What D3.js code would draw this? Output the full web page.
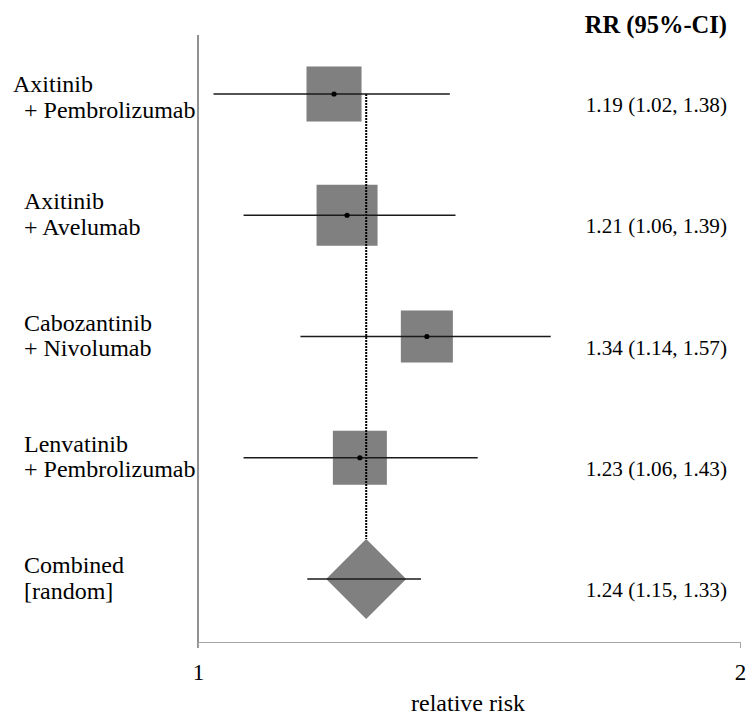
<!DOCTYPE html>
<html>
<head>
<meta charset="utf-8">
<script src="https://cdn.jsdelivr.net/npm/d3@7"></script>
<style>
  html, body { margin: 0; padding: 0; background: #fff; }
  svg { display: block; }
</style>
</head>
<body>
<svg id="chart" width="754" height="718"></svg>
<script>
// Trial-level relative risks with 95% confidence intervals
const studyLabels = [
  ["Axitinib", "+ Pembrolizumab"],
  ["Axitinib", "+ Avelumab"],
  ["Cabozantinib", "+ Nivolumab"],
  ["Lenvatinib", "+ Pembrolizumab"]
];
const studyRR = [1.19, 1.21, 1.34, 1.23];
const studyLower = [1.02, 1.06, 1.14, 1.06];
const studyUpper = [1.38, 1.39, 1.57, 1.43];
const studyWeight = [24.5, 30.1, 21.9, 23.6];

// Random-effects pooled estimate
const pooledLabel = ["Combined", "[random]"];
const pooledRR = 1.24;
const pooledLower = 1.15;
const pooledUpper = 1.33;

const xTicks = [1, 2];
const header = "RR (95%-CI)";
const xTitle = "relative risk";

const FONT = '"Liberation Serif", "Times New Roman", Times, serif';
const BASE = 24;
const svg = d3.select("#chart");
const fmt = d3.format(".2f");

const x = d3.scaleLog().base(2).domain([1, 2]).range([198, 740]);
const rows = d3.range(studyRR.length + 1);
const y = d3.scalePoint().domain(rows).range([94, 579]);
const boxSize = d3.scaleSqrt().domain([0, d3.max(studyWeight)]).range([0, 61]);

const plotTop = 35, axisY = 642;

// Text is set at a fixed base size and scaled to the wanted size.
function textAt(parent, px, py, str, size, anchor = "start", weight = "normal") {
  return parent.append("g")
    .attr("transform", `translate(${px},${py}) scale(${size / BASE})`)
    .append("text")
    .style("font-family", FONT)
    .style("font-size", BASE + "px")
    .style("font-weight", weight)
    .attr("text-anchor", anchor)
    .attr("fill", "#000")
    .text(str);
}

// left frame line
svg.append("line")
  .attr("x1", x(1)).attr("x2", x(1))
  .attr("y1", plotTop).attr("y2", axisY + 6)
  .attr("stroke", "#222").attr("stroke-width", 1);

// x axis (tick labels drawn separately)
const axis = svg.append("g").attr("transform", `translate(0,${axisY})`)
  .call(d3.axisBottom(x).tickValues(xTicks).tickFormat(d3.format("d")).tickSize(6).tickSizeOuter(0));
axis.select(".domain").attr("stroke", "#a6a6a6");
axis.selectAll(".tick line").attr("stroke", "#a6a6a6");
axis.selectAll(".tick text").remove();
axis.selectAll(".tick").each(function (d) {
  textAt(d3.select(this), 0, 38, d3.format("d")(d), 23, "middle");
});

textAt(svg, 468, 711, xTitle, 24, "middle");

// header
textAt(svg, 727, 33, header, 24.5, "end", "bold");

// study boxes
svg.append("g").selectAll("rect").data(studyRR).join("rect")
  .attr("x", (d, i) => x(d) - boxSize(studyWeight[i]) / 2)
  .attr("y", (d, i) => y(i) - boxSize(studyWeight[i]) / 2)
  .attr("width", (d, i) => boxSize(studyWeight[i]))
  .attr("height", (d, i) => boxSize(studyWeight[i]))
  .attr("fill", "#808080");

// pooled diamond
const dy = y(studyRR.length), dx = x(pooledRR), half = 40;
svg.append("path")
  .attr("d", `M${dx},${dy - half}L${dx + half},${dy}L${dx},${dy + half}L${dx - half},${dy}Z`)
  .attr("fill", "#808080");

// reference line at pooled estimate
svg.append("line")
  .attr("x1", dx).attr("x2", dx)
  .attr("y1", y(0)).attr("y2", dy - half)
  .attr("stroke", "#000").attr("stroke-width", 2)
  .attr("stroke-dasharray", "2,1");

// confidence intervals
const lo = studyLower.concat([pooledLower]);
const hi = studyUpper.concat([pooledUpper]);
svg.append("g").selectAll("line").data(rows).join("line")
  .attr("x1", i => x(lo[i])).attr("x2", i => x(hi[i]))
  .attr("y1", i => y(i)).attr("y2", i => y(i))
  .attr("stroke", "#1a1a1a").attr("stroke-width", 1.3);

// point estimates
svg.append("g").selectAll("circle").data(studyRR).join("circle")
  .attr("cx", d => x(d)).attr("cy", (d, i) => y(i))
  .attr("r", 2.6).attr("fill", "#000");

// row labels
const labels = studyLabels.concat([pooledLabel]);
labels.forEach((lines, i) => {
  lines.forEach((s, j) => {
    const lx = (i === 0 && j === 0) ? 13 : 24;
    const base = i === 0 ? y(i) - 2 : y(i) - 6;
    textAt(svg, lx, base + j * 25.5, s, 24);
  });
});

// value labels
const rrAll = studyRR.concat([pooledRR]);
rows.forEach(i => {
  textAt(svg, 727, y(i) + 18, `${fmt(rrAll[i])} (${fmt(lo[i])}, ${fmt(hi[i])})`, 21.2, "end");
});
</script>
</body>
</html>
